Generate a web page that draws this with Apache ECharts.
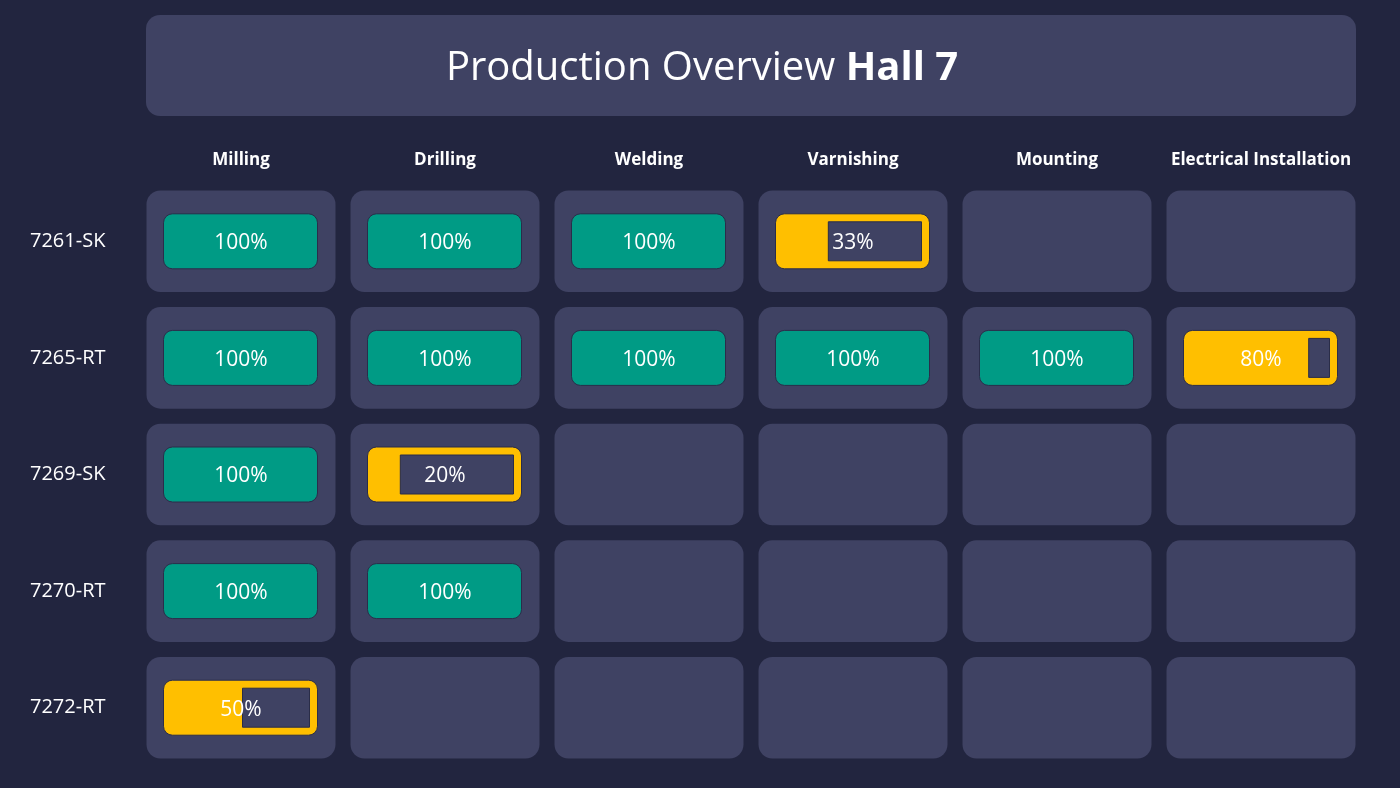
<!DOCTYPE html>
<html><head><meta charset="utf-8">
<script src="https://cdn.jsdelivr.net/npm/echarts@6/dist/echarts.min.js"></script>
<style>html,body{margin:0;background:#22253f}#c{width:1400px;height:788px}</style>
</head><body><div id="c"></div>
<script>
const processes = ['Milling','Drilling','Welding','Varnishing','Mounting','Electrical Installation'];
const orders = ['7261-SK','7265-RT','7269-SK','7270-RT','7272-RT'];
// progress per order (row) per process (column); null = not started
const progress7261 = [100,100,100,33,null,null];
const progress7265 = [100,100,100,100,100,80];
const progress7269 = [100,20,null,null,null,null];
const progress7270 = [100,100,null,null,null,null];
const progress7272 = [50,null,null,null,null,null];
const rows = [progress7261,progress7265,progress7269,progress7270,progress7272];

const data = [];
rows.forEach((r,yi)=>r.forEach((v,xi)=>data.push([xi,yi,v==null?-1:v])));

const FONT = '"Open Sans", "Noto Sans", sans-serif';
const chart = echarts.init(document.getElementById('c'));
chart.setOption({
  backgroundColor:'#22253f',
  graphic:[{type:'rect',left:146,top:15,shape:{width:1210,height:101,r:14},style:{fill:'#3f4263'}}],
  title:{text:'{n|Production Overview }{b|Hall 7}',left:697,top:44,textAlign:'center',
    textStyle:{fontWeight:'normal',fontSize:40,color:'#fff',fontFamily:FONT,
      rich:{n:{fontSize:40,color:'#fff',fontWeight:'normal',fontFamily:FONT},b:{fontSize:40,color:'#fff',fontWeight:'bold',fontFamily:FONT}}}},
  grid:{left:139,right:37,top:183,bottom:22},
  xAxis:{type:'category',data:processes,position:'top',axisLine:{show:false},axisTick:{show:false},splitLine:{show:false},
    axisLabel:{interval:0,color:'#fff',fontWeight:'bold',fontSize:17,fontFamily:FONT,margin:14}},
  yAxis:{type:'category',data:orders,inverse:true,axisLine:{show:false},axisTick:{show:false},splitLine:{show:false},
    axisLabel:{interval:0,color:'#fff',fontSize:20,fontFamily:FONT,align:'left',margin:109}},
  series:[{type:'custom',data:data,encode:{x:0,y:1},
    renderItem:function(params,api){
      const c = api.coord([api.value(0),api.value(1)]);
      const s = api.size([1,1]);
      const cw = s[0]-15, ch = s[1]-15;
      const children = [{type:'rect',shape:{x:c[0]-cw/2,y:c[1]-ch/2,width:cw,height:ch,r:14},style:{fill:'#3f4263'}}];
      const v = api.value(2);
      if (v >= 0) {
        const bw = 154, bh = 55, bx = c[0]-bw/2-0.5, by = c[1]-bh/2;
        if (v >= 100) {
          children.push({type:'rect',shape:{x:bx,y:by,width:bw,height:bh,r:9},style:{fill:'#009b85',stroke:'#2a2d4a',lineWidth:1}});
        } else {
          children.push({type:'rect',shape:{x:bx,y:by,width:bw,height:bh,r:9},style:{fill:'#ffbf00',stroke:'#2a2d4a',lineWidth:1}});
          const ix = bx + bw*v/100 + 2;
          children.push({type:'rect',shape:{x:ix,y:by+8,width:bx+bw-8-ix,height:bh-16},style:{fill:'#3f4263',stroke:'#2a2d48',lineWidth:1}});
        }
        children.push({type:'text',style:{text:v+'%',x:c[0],y:c[1]+2,align:'center',verticalAlign:'middle',fill:'#fff',fontSize:21,fontFamily:FONT}});
      }
      return {type:'group',children:children};
    }}]
});
</script></body></html>
